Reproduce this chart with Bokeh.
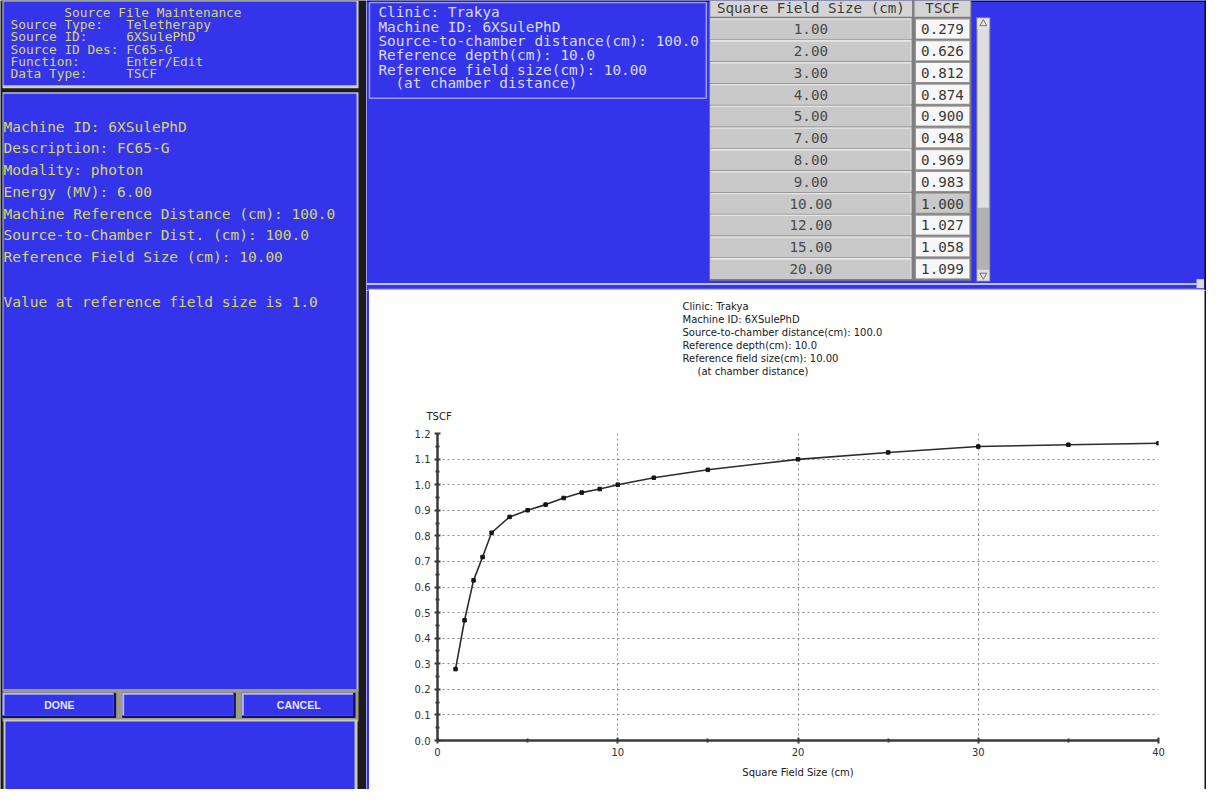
from bokeh.plotting import figure
from bokeh.layouts import row, column
from bokeh.models import Range1d, FixedTicker, NumeralTickFormatter, ColumnDataSource, Title
from bokeh.core.properties import value
from bokeh.embed import file_html
from bokeh.resources import INLINE

# ---------------- data ----------------
field_sizes = [1.00, 2.00, 3.00, 4.00, 5.00, 7.00, 8.00, 9.00, 10.00, 12.00, 15.00, 20.00]
tscf_table = [0.279, 0.626, 0.812, 0.874, 0.900, 0.948, 0.969, 0.983, 1.000, 1.027, 1.058, 1.099]

curve_x = [1, 1.5, 2, 2.5, 3, 4, 5, 6, 7, 8, 9, 10, 12, 15, 20, 25, 30, 35, 40]
curve_y = [0.279, 0.47, 0.626, 0.717, 0.812, 0.874, 0.900, 0.922, 0.948, 0.969, 0.983,
           1.000, 1.027, 1.058, 1.099, 1.126, 1.149, 1.156, 1.162]

x_ticks = [0, 10, 20, 30, 40]
x_minor = [5, 15, 25, 35]
y_ticks = [0.0, 0.1, 0.2, 0.3, 0.4, 0.5, 0.6, 0.7, 0.8, 0.9, 1.0, 1.1, 1.2]
y_minor = [0.05, 0.15, 0.25, 0.35, 0.45, 0.55, 0.65, 0.75, 0.85, 0.95, 1.05, 1.15]

x_label = "Square Field Size (cm)"
y_label = "TSCF"

header_title = "Source File Maintenance"
header_labels = ["Source Type:", "Source ID:", "Source ID Des:", "Function:", "Data Type:"]
header_values = ["Teletherapy", "6XSulePhD", "FC65-G", "Enter/Edit", "TSCF"]

machine_lines = ["Machine ID: 6XSulePhD", "Description: FC65-G", "Modality: photon",
                 "Energy (MV): 6.00", "Machine Reference Distance (cm): 100.0",
                 "Source-to-Chamber Dist. (cm): 100.0", "Reference Field Size (cm): 10.00"]
value_note = "Value at reference field size is 1.0"

info_lines = ["Clinic: Trakya", "Machine ID: 6XSulePhD", "Source-to-chamber distance(cm): 100.0",
              "Reference depth(cm): 10.0", "Reference field size(cm): 10.00", "(at chamber distance)"]

table_headers = ["Square Field Size (cm)", "TSCF"]
reference_field = 10.00

buttons = ["DONE", "", "CANCEL"]

# ---------------- styles ----------------
BLUE = "#3434ea"
YEL = "#d6d66c"
INFO = "#dcdcf6"
MONO = "DejaVu Sans Mono"
SANS = "DejaVu Sans"


def panel(w, h, xr, yr, bg):
    f = figure(width=w, height=h, x_range=Range1d(*xr), y_range=Range1d(*yr),
               output_backend="svg", toolbar_location=None, x_axis_type=None, y_axis_type=None,
               min_border=0, min_border_left=0, min_border_right=0, min_border_top=0,
               min_border_bottom=0, background_fill_color=bg, border_fill_color=bg,
               outline_line_color=None)
    return f


def q(f, l, r, t, b, c, **kw):
    f.quad(left=[l], right=[r], top=[t], bottom=[b], fill_color=c, line_color=None, **kw)


def txt(f, xs, ys, texts, size, color, font=MONO, align="left", style="normal"):
    f.text(x=xs, y=ys, text=texts, text_font=value(font), text_font_size=value(f"{size}px"),
           text_color=color, text_align=align, text_baseline="middle", text_font_style=style)


# ---------------- left panel ----------------
L = panel(366, 789, (5, 372), (802, 2), "#1c1c1c")
q(L, 7, 364, 2, 91, "#cfcfcf")
q(L, 8, 362, 3, 88, BLUE)
q(L, 7, 364, 95, 702, "#bdbdf0")
q(L, 8, 362, 96.5, 700, BLUE)
q(L, 7, 364, 700, 733, "#9c9c80")
q(L, 8, 363, 731, 802, "#c8c8c8")
q(L, 10, 360, 733, 802, BLUE)

txt(L, [69], [14], [header_title], 12.8, YEL)
hy = [26.5, 39, 51.5, 64, 76.5]
txt(L, [15] * 5, hy, header_labels, 12.8, YEL)
txt(L, [131] * 5, hy, header_values, 12.8, YEL)

my = [130 + 22 * i for i in range(len(machine_lines))]
txt(L, [8] * len(machine_lines), my, machine_lines, 14.5, YEL)
txt(L, [8], [308], [value_note], 14.5, YEL)

bx = [(7, 121), (127, 241), (247, 361)]
for (a, b), lab in zip(bx, buttons):
    q(L, a, b, 704, 729.5, "#12126a")
    q(L, a, b - 2.5, 704, 727, "#b4b4ff")
    q(L, a + 2, b - 2.5, 706, 727, BLUE)
    if lab:
        txt(L, [(a + b) / 2], [716.5], [lab], 10.5, "#e6e6ff", font="Liberation Sans",
            align="center", style="bold")

# ---------------- top right panel ----------------
T = panel(840, 290, (372, 1215), (296, 2), BLUE)
q(T, 372, 1215, 2, 3.5, "#111111")
T.quad(left=[375], right=[713], top=[4], bottom=[101], fill_color=None,
       line_color="#9a9af0", line_width=1.5)
iy = [14, 28.5, 43, 57.5, 72, 86]
ix = [384, 384, 384, 384, 384, 401]
txt(T, ix, iy, info_lines, 14.4, INFO)

# table
q(T, 716, 979, 2, 286, "#7e7e7e")
q(T, 717, 919.5, 2, 18.5, "#d4d4d4")
q(T, 922, 978, 2, 18.5, "#d4d4d4")
txt(T, [818, 950], [10, 10], table_headers, 14.2, "#3c3c3c", align="center")

n = len(field_sizes)
tops = [20 + 22.1 * i for i in range(n)]
bots = [t + 21.2 for t in tops]
ctr = [t + 11 for t in tops]
T.quad(left=[717] * n, right=[919] * n, top=tops, bottom=bots, fill_color="#e6e6e6", line_color=None)
T.quad(left=[717] * n, right=[918] * n, top=[t + 1.6 for t in tops], bottom=bots,
       fill_color="#c9c9c9", line_color=None)
cell_fill = ["#c9c9c9" if fs == reference_field else "#f7f7f7" for fs in field_sizes]
T.quad(left=[922.5] * n, right=[977.5] * n, top=tops, bottom=bots, fill_color="#9a9a9a", line_color=None)
T.quad(left=[923.5] * n, right=[977] * n, top=[t + 1.2 for t in tops], bottom=[b - 0.8 for b in bots],
       fill_color=cell_fill, line_color=None)
src = ColumnDataSource(dict(x1=[818] * n, x2=[950] * n, y=ctr,
                            fs=[f"{v:.2f}" for v in field_sizes],
                            ts=[f"{v:.3f}" for v in tscf_table]))
T.text(x="x1", y="y", text="fs", source=src, text_font=value(MONO), text_font_size=value("14.2px"),
       text_color="#4a4a4a", text_align="center", text_baseline="middle")
T.text(x="x2", y="y", text="ts", source=src, text_font=value(MONO), text_font_size=value("14.2px"),
       text_color="#383838", text_align="center", text_baseline="middle")

# scrollbar
q(T, 984, 998, 19, 287, "#8c8c8c")
q(T, 985, 997, 20, 286, "#b2b2b2")
q(T, 985.5, 996.5, 31, 212, "#dedede")
q(T, 985, 997, 20, 31, "#e6e6e6")
q(T, 985, 997, 275, 286, "#e0e0e0")
T.scatter([991], [25.5], marker="triangle", size=7, fill_color=None, line_color="#707070")
T.scatter([991], [280.5], marker="inverted_triangle", size=7, fill_color=None, line_color="#707070")

# separators
q(T, 372, 1205, 288.5, 290.5, "#c4c4dc")
q(T, 374, 1213, 294.2, 296, "#b6b6f2")
q(T, 1205, 1212.5, 284.5, 293.5, "#dadada")
q(T, 1213, 1215, 2, 296, "#111111")

# ---------------- chart ----------------
chart = figure(width=835, height=497, x_range=Range1d(0, 40), y_range=Range1d(0, 1.2),
               output_backend="svg", toolbar_location=None,
               min_border_left=68, min_border_right=46, min_border_top=143, min_border_bottom=47,
               background_fill_color="white", border_fill_color="white", outline_line_color=None)

xt = FixedTicker(ticks=x_ticks, minor_ticks=x_minor)
yt = FixedTicker(ticks=y_ticks, minor_ticks=y_minor)
chart.xaxis.ticker = xt
chart.yaxis.ticker = yt
chart.xgrid.ticker = xt
chart.ygrid.ticker = yt
chart.yaxis.formatter = NumeralTickFormatter(format="0.0")
for g in (chart.xgrid, chart.ygrid):
    g.grid_line_color = "#8a8a8a"
    g.grid_line_dash = "2 3"
    g.grid_line_width = 1

for ax in (chart.xaxis, chart.yaxis):
    ax.axis_line_color = "#3a3a3a"
    ax.axis_line_width = 2.5
    ax.major_tick_line_color = "#3a3a3a"
    ax.major_tick_line_width = 2
    ax.major_tick_in = 3
    ax.major_tick_out = 3
    ax.minor_tick_line_color = "#3a3a3a"
    ax.minor_tick_line_width = 2
    ax.minor_tick_in = 2
    ax.minor_tick_out = 2
    ax.major_label_text_font = SANS
    ax.major_label_text_font_size = "10px"
    ax.major_label_text_color = "#303030"
    ax.major_label_standoff = 4

chart.xaxis.axis_label = x_label
chart.xaxis.axis_label_text_font = SANS
chart.xaxis.axis_label_text_font_size = "10px"
chart.xaxis.axis_label_text_font_style = "normal"
chart.xaxis.axis_label_text_color = "#202020"
chart.xaxis.axis_label_standoff = 8

chart.line(curve_x, curve_y, line_color="#2c2c2c", line_width=1.6)
chart.scatter(curve_x, curve_y, marker="square", size=3.5, color="#141414")


def title_line(text, offset, standoff):
    chart.add_layout(Title(text=text, align="left", offset=offset, standoff=standoff,
                           text_font=SANS, text_font_size="10px", text_font_style="normal",
                           text_color="#202020"), "above")


# stacked from the frame upwards
title_line(y_label, -11, 22.6)
title_line(" ", 0, 7.5)
title_offsets = [245, 245, 245, 245, 245, 260]
for t, o in reversed(list(zip(info_lines, title_offsets))):
    title_line(t, o, 0)

strip = panel(3, 499, (0, 1), (0, 1), BLUE)
bottom_black = panel(835, 2, (0, 1), (0, 1), "#111111")
right_black = panel(2, 499, (0, 1), (0, 1), "#111111")

layout = row(L, column(T, row(strip, column(chart, bottom_black), right_black)))

open("out.html", "w").write(file_html(layout, INLINE))
